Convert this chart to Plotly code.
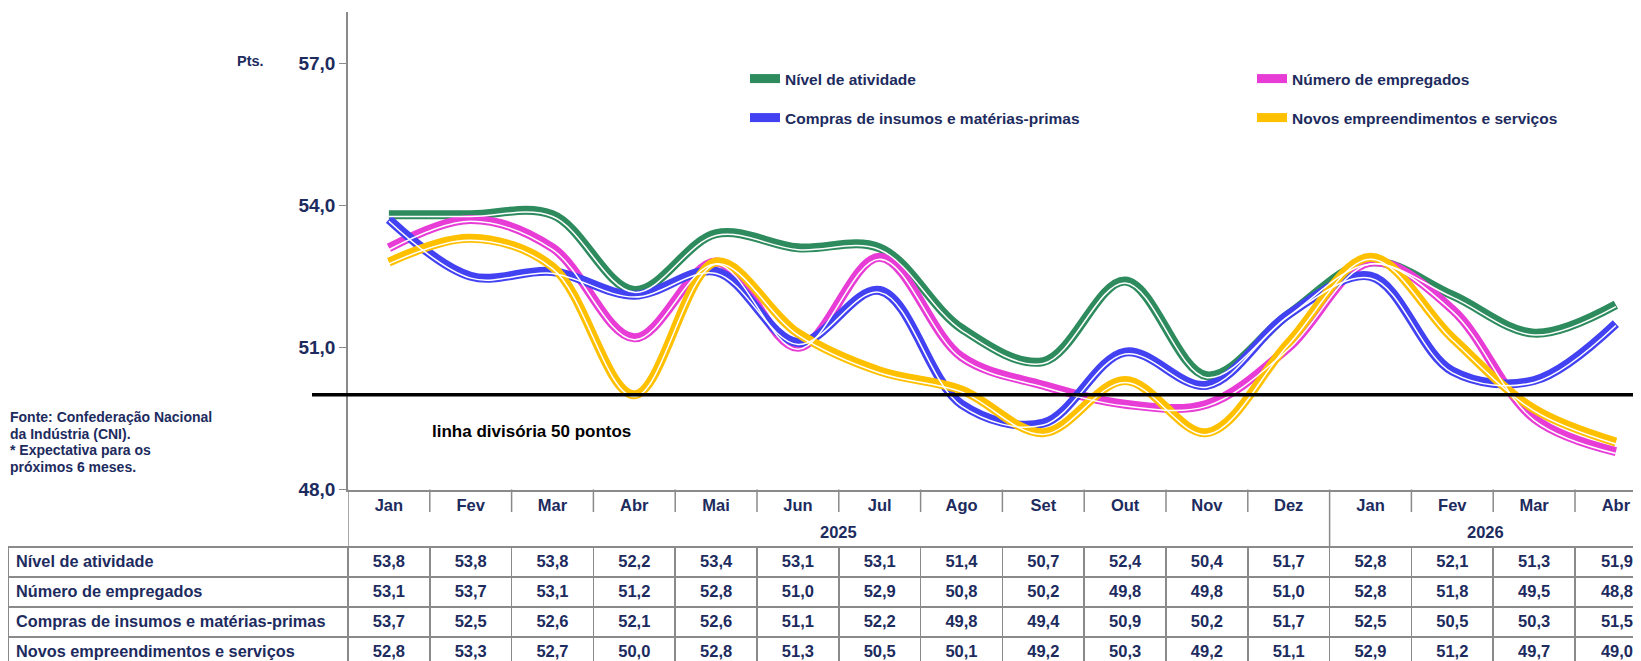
import plotly.graph_objects as go

months = ['Jan', 'Fev', 'Mar', 'Abr', 'Mai', 'Jun', 'Jul', 'Ago',
          'Set', 'Out', 'Nov', 'Dez', 'Jan', 'Fev', 'Mar', 'Abr']
years = ['2025', '2026']
series_names = ['Nível de atividade', 'Número de empregados',
                'Compras de insumos e matérias-primas', 'Novos empreendimentos e serviços']
nivel = [53.8, 53.8, 53.8, 52.2, 53.4, 53.1, 53.1, 51.4, 50.7, 52.4, 50.4, 51.7, 52.8, 52.1, 51.3, 51.9]
empregados = [53.1, 53.7, 53.1, 51.2, 52.8, 51.0, 52.9, 50.8, 50.2, 49.8, 49.8, 51.0, 52.8, 51.8, 49.5, 48.8]
compras = [53.7, 52.5, 52.6, 52.1, 52.6, 51.1, 52.2, 49.8, 49.4, 50.9, 50.2, 51.7, 52.5, 50.5, 50.3, 51.5]
novos = [52.8, 53.3, 52.7, 50.0, 52.8, 51.3, 50.5, 50.1, 49.2, 50.3, 49.2, 51.1, 52.9, 51.2, 49.7, 49.0]
y_ticks = [48, 51, 54, 57]
divide_line = 50
note_lines = ['Fonte: Confederação Nacional', 'da Indústria (CNI).',
              '* Expectativa para os', 'próximos 6 meses.']

colors = ['#2E8B5E', '#E83CD6', '#4242F2', '#FFC000']
NAVY = '#1D2B5E'
GRAY = '#8a8a8a'
FONT = 'Liberation Sans, Arial, sans-serif'

# the page body has an 8px margin, so the figure is 8px smaller than the
# window and every position below is given in window pixels
OFF = 8
W, H = 1641 - OFF, 661 - OFF
T, B = 4, 0
PH = H - T - B
AXIS_LEFT = 348       # window px
AXIS_BOTTOM = 489.5   # window px
TABLE_TOP = 547
TABLE_LEFT = OFF
COL_W = 81.8          # month column width; the last column runs off the page


def px(sx):
    """window x -> paper x"""
    return (sx - OFF) / W


def py(sy):
    """window y -> paper y"""
    return (H - B - (sy - OFF)) / PH


def fmt(v):
    return f'{v:.1f}'.replace('.', ',')


x = list(range(len(months)))
all_series = [nivel, empregados, compras, novos]
# one legend per entry so each can sit where the original has it
legend_ids = ['legend', 'legend2', 'legend3', 'legend4']
legend_pos = [(745, 79), (1252, 79), (745, 118), (1252, 118)]

fig = go.Figure()

# thick coloured stroke + thin white stripe (compound line look)
for name, vals, col, lg in zip(series_names, all_series, colors, legend_ids):
    fig.add_trace(go.Scatter(
        x=x, y=vals, name=name, mode='lines',
        line=dict(color=col, width=9, shape='spline', smoothing=1.0),
        legend=lg, hoverinfo='skip'
    ))
for vals in all_series:
    fig.add_trace(go.Scatter(
        x=x, y=vals, mode='lines', yaxis='y2', showlegend=False,
        line=dict(color='white', width=1.5, shape='spline', smoothing=1.0),
        hoverinfo='skip'
    ))

# table under the chart, first row used as the header
rows = [(n, [fmt(v) for v in s]) for n, s in zip(series_names, all_series)]
header_vals = [rows[0][0]] + rows[0][1]
cell_cols = [[r[0] for r in rows[1:]]] + [[r[1][i] for r in rows[1:]] for i in range(len(months))]
tfont = dict(family=FONT, size=[16.3] + [16.5] * len(months), color=NAVY, weight='bold')
aligns = ['left'] + ['center'] * (len(months) - 1) + ['right']
last_w = 1641 - AXIS_LEFT - COL_W * (len(months) - 1)
fig.add_trace(go.Table(
    domain=dict(x=[px(TABLE_LEFT), 1], y=[0, py(TABLE_TOP)]),
    columnwidth=[AXIS_LEFT - TABLE_LEFT] + [COL_W] * (len(months) - 1) + [last_w],
    header=dict(values=header_vals, height=30, fill_color='white',
                line=dict(color=GRAY, width=1.5), align=aligns, font=tfont),
    cells=dict(values=cell_cols, height=30, fill_color='white',
               line=dict(color=GRAY, width=1.5), align=aligns, font=tfont),
))

# 57 sits at window px 63, 48 at the axis bottom, axis top at px 12
ppt = (AXIS_BOTTOM - 63) / 9
y_range = [48, 57 + (63 - (T + OFF)) / ppt]
shift = 1.9 / ppt
x_range = [-0.5, -0.5 + (1641 - AXIS_LEFT) / COL_W]

shapes = [
    # 50 points dividing line
    dict(type='line', xref='paper', yref='y', x0=px(312), x1=1, y0=divide_line, y1=divide_line,
         line=dict(color='black', width=3.5)),
    # left border of header block
    dict(type='line', xref='x', yref='paper', x0=-0.5, x1=-0.5, y0=py(AXIS_BOTTOM), y1=py(TABLE_TOP),
         line=dict(color=GRAY, width=1.5)),
]
for i in range(len(months) - 1):
    bottom = TABLE_TOP if i == 11 else 512
    shapes.append(dict(type='line', xref='x', yref='paper', x0=i + 0.5, x1=i + 0.5,
                       y0=py(AXIS_BOTTOM), y1=py(bottom), line=dict(color=GRAY, width=1.5)))

annotations = [
    dict(text='Pts.', xref='paper', yref='paper', x=px(251), y=py(61),
         xanchor='center', yanchor='middle', showarrow=False,
         font=dict(family=FONT, size=14.5, color=NAVY, weight='bold')),
    dict(text='linha divisória 50 pontos', xref='paper', yref='paper', x=px(531), y=py(431),
         xanchor='center', yanchor='middle', showarrow=False,
         font=dict(family=FONT, size=17, color='black', weight='bold')),
    dict(text=years[0], xref='x', yref='paper', x=5.5, y=py(532), xanchor='center', yanchor='middle',
         showarrow=False, font=dict(family=FONT, size=16.5, color=NAVY, weight='bold')),
    dict(text=years[1], xref='x', yref='paper', x=13.4, y=py(532), xanchor='center', yanchor='middle',
         showarrow=False, font=dict(family=FONT, size=16.5, color=NAVY, weight='bold')),
]
for k, line_txt in enumerate(note_lines):
    annotations.append(dict(
        text=line_txt, xref='paper', yref='paper', x=px(8), y=py(417 + 16.5 * k),
        xanchor='left', yanchor='middle', align='left', showarrow=False,
        font=dict(family=FONT, size=14, color=NAVY, weight='bold')))

lfont = dict(family=FONT, size=15.5, color=NAVY, weight='bold')
legends = {}
for lg, (lx, ly) in zip(legend_ids, legend_pos):
    legends[lg] = dict(x=px(lx), y=py(ly), xanchor='left', yanchor='middle',
                       font=lfont, bgcolor='rgba(0,0,0,0)', borderwidth=0)

fig.update_layout(
    width=W, height=H,
    margin=dict(l=0, r=0, t=T, b=B, autoexpand=False),
    paper_bgcolor='white', plot_bgcolor='white',
    separators=',.',
    showlegend=True,
    xaxis=dict(domain=[px(AXIS_LEFT), 1], range=x_range, automargin=False,
               tickvals=x, ticktext=months, showgrid=False, zeroline=False,
               showline=True, linecolor=GRAY, linewidth=1.5, ticks='',
               tickfont=dict(family=FONT, size=16.5, color=NAVY, weight='bold')),
    yaxis=dict(domain=[py(AXIS_BOTTOM), 1], range=y_range, tickvals=y_ticks, tickformat='.1f',
               automargin=False,
               showgrid=False, zeroline=False, showline=True, linecolor=GRAY,
               linewidth=1.5, ticks='outside', ticklen=7, tickcolor=GRAY,
               tickfont=dict(family=FONT, size=19, color=NAVY, weight='bold')),
    yaxis2=dict(domain=[py(AXIS_BOTTOM), 1], overlaying='y', visible=False, automargin=False,
                range=[y_range[0] + shift, y_range[1] + shift]),
    shapes=shapes,
    annotations=annotations,
    **legends,
)

fig.write_html('out.html')
